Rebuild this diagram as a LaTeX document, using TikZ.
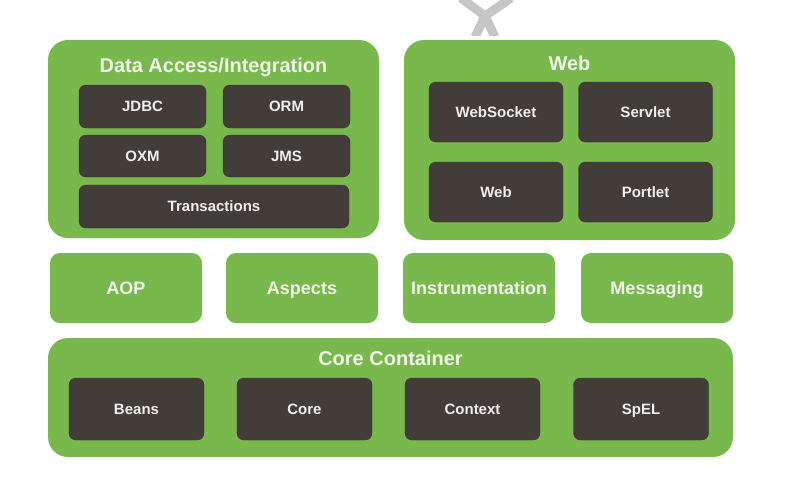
\documentclass[tikz,border=0pt]{standalone}
\usepackage{fontspec}
\setmainfont{Liberation Sans}
\usepackage{xcolor}
\usepackage{tikz}

\definecolor{springgreen}{HTML}{78B84C}
\definecolor{darkbox}{HTML}{433D3A}
\definecolor{greentext}{HTML}{F0F6EA}
\definecolor{crossgray}{HTML}{C6C6C6}

\begin{document}
\begin{tikzpicture}[x=1pt, y=-1pt,
    group/.style={fill=springgreen, rounded corners=20pt, inner sep=0pt, outer sep=0pt},
    title/.style={text=greentext, inner sep=0pt, text height=14.4pt, text depth=0pt,
        font=\bfseries\fontsize{20}{24}\selectfont},
    module/.style={fill=springgreen, rounded corners=10pt, minimum width=152pt, minimum height=70pt,
        inner sep=0pt, text height=13pt, text depth=0pt, text=greentext,
        font=\bfseries\fontsize{18}{22}\selectfont},
    part/.style={fill=darkbox, draw=darkbox!85!black, rounded corners=7pt, inner sep=0pt,
        text height=10.8pt, text depth=0pt, text=white!94!black,
        font=\bfseries\fontsize{15}{18}\selectfont}]
\useasboundingbox (0,0) rectangle (786,479);

% grey cross, cut off at the top
\begin{scope}
\clip (440,0) rectangle (530,35);
\draw[crossgray, line width=9pt] (461,-2) -- (485,16) -- (495,37);
\draw[crossgray, line width=9pt] (511,-2) -- (485,16) -- (475,37);
\end{scope}

% Data Access/Integration
\node[group, minimum width=331pt, minimum height=198pt] (data) at (213.5,139) {};
\node[title] (datatitle) at (213.5,65) {Data Access/Integration};
\node[part, minimum width=127pt, minimum height=43pt] (jdbc) at (142.5,106.5) {JDBC};
\node[part, minimum width=127pt, minimum height=43pt] (orm) at (286.5,106.5) {ORM};
\node[part, minimum width=127pt, minimum height=42pt] (oxm) at (142.5,156) {OXM};
\node[part, minimum width=127pt, minimum height=42pt] (jms) at (286.5,156) {JMS};
\node[part, minimum width=270pt, minimum height=43pt] (tx) at (214,206.5) {Transactions};

% Web
\node[group, minimum width=331pt, minimum height=200pt] (web) at (569.5,140) {};
\node[title] (webtitle) at (569.5,63) {Web};
\foreach \x/\y/\n/\t in {496/112/websocket/WebSocket, 645.5/112/servlet/Servlet,
                         496/192/webmod/Web, 645.5/192/portlet/Portlet}
    \node[part, minimum width=134pt, minimum height=60pt] (\n) at (\x,\y) {\t};

% middle row
\foreach \x/\n/\t in {126/aop/AOP, 302/aspects/Aspects, 479/instr/Instrumentation, 657/msg/Messaging}
    \node[module] (\n) at (\x,288) {\t};

% Core Container
\node[group, minimum width=685pt, minimum height=119pt] (core) at (390.5,397.5) {};
\node[title] (coretitle) at (390.5,358) {Core Container};
\foreach \x/\n/\t in {136.5/beans/Beans, 304.5/coremod/Core, 472.5/context/Context, 641/spel/SpEL}
    \node[part, minimum width=135pt, minimum height=62pt] (\n) at (\x,409) {\t};
\end{tikzpicture}
\end{document}
